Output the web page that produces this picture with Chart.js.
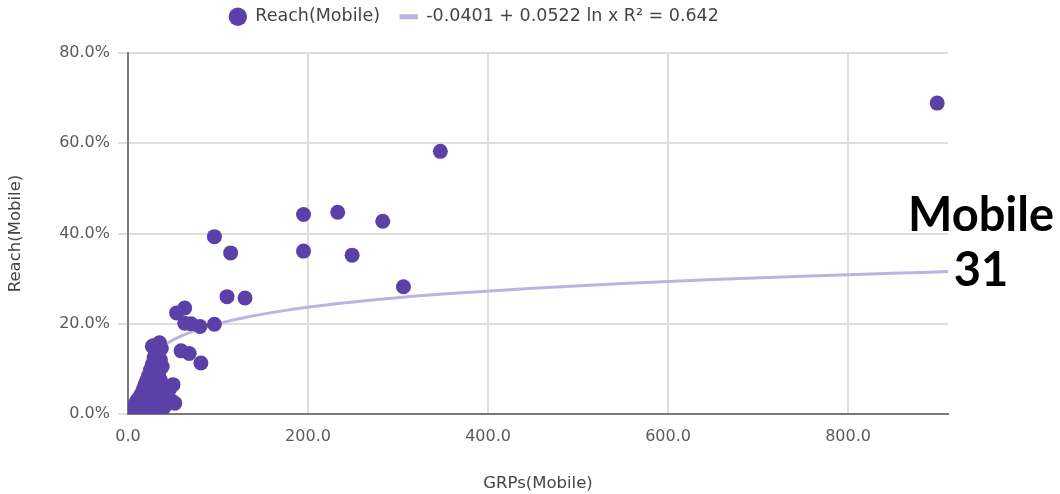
<!DOCTYPE html>
<html>
<head>
<meta charset="utf-8">
<title>Reach vs GRPs (Mobile)</title>
<script src="https://cdn.jsdelivr.net/npm/chart.js@4.4.1/dist/chart.umd.min.js"></script>
<style>
  html, body { margin: 0; padding: 0; background: #fff; }
  #wrap { position: relative; width: 1060px; height: 494px; }
  #tag {
    position: absolute; left: 906px; top: 186px; width: 150px;
    text-align: center; font-family: Lato, "Open Sans", sans-serif;
    font-weight: 700; font-size: 47px; line-height: 55px; color: #000;
  }
</style>
</head>
<body>
<div id="wrap">
  <canvas id="chart-reach" width="1060" height="494"></canvas>
  <div id="tag">Mobile<br>31</div>
</div>
<script>
// GRPs (x) and reach (y, as a fraction)
var grps = [
  0.5, 1, 2, 3, 4, 5, 6, 7, 8, 9, 10, 11, 12, 13, 14, 15, 16, 17, 18, 19,
  20, 21, 22, 23, 24, 25, 26, 27, 28, 29, 30, 31, 32, 33, 34, 35, 36, 37, 36, 38,
  30, 28, 34, 38, 40, 42, 44, 46, 48, 52, 50, 26, 20, 32, 40, 27, 29,
  59, 68, 81, 54, 63, 63, 70, 80, 96,
  96, 114, 110, 130, 195, 195, 233, 283, 249, 306, 347, 899
];
var reach = [
  0.001, 0.003, 0.006, 0.002, 0.010, 0.005, 0.015, 0.008, 0.022, 0.012,
  0.030, 0.006, 0.020, 0.038, 0.010, 0.045, 0.028, 0.055, 0.015, 0.065,
  0.035, 0.075, 0.050, 0.085, 0.020, 0.098, 0.065, 0.110, 0.080, 0.125,
  0.140, 0.100, 0.130, 0.118, 0.090, 0.158, 0.120, 0.145, 0.075, 0.105,
  0.060, 0.030, 0.020, 0.035, 0.060, 0.045, 0.028, 0.055, 0.030, 0.024,
  0.065, 0.012, 0.008, 0.008, 0.015, 0.150, 0.152,
  0.140, 0.134, 0.113, 0.224, 0.235, 0.201, 0.200, 0.194, 0.199,
  0.393, 0.357, 0.260, 0.257, 0.442, 0.361, 0.447, 0.427, 0.352, 0.282, 0.582, 0.689
];

// logarithmic trendline as given in the legend
var trendA = -0.0401;
var trendB = 0.0522;
var trendR2 = 0.642;
var trendX = [22, 30, 45, 60, 80, 100, 130, 170, 220, 280, 350, 450, 550, 650, 750, 850, 911];

var xTicks = [0, 200, 400, 600, 800];
var yTicks = [0, 0.2, 0.4, 0.6, 0.8];

var points = grps.map(function (g, i) { return { x: g, y: reach[i] }; });
var trend = trendX.map(function (g) { return { x: g, y: trendA + trendB * Math.log(g) }; });

var legendHeight = {
  id: 'legendHeight',
  beforeInit: function (chart) {
    var fit = chart.legend.fit;
    chart.legend.fit = function () {
      fit.call(this);
      this.height = 65;
    };
  }
};

Chart.defaults.font.family = '"DejaVu Sans", "Liberation Sans", Arial, sans-serif';

var domChart = document.getElementById('chart-reach');
var chartReach = new Chart(domChart, {
  type: 'scatter',
  data: {
    datasets: [{
      label: 'Reach(Mobile)',
      data: points,
      backgroundColor: '#5b40a8',
      borderColor: '#5b40a8',
      borderWidth: 0,
      pointRadius: 7.5,
      pointStyle: 'circle',
      order: 0
    }, {
      label: trendA.toFixed(4) + ' + ' + trendB.toFixed(4) + ' ln x R\u00B2 = ' + trendR2.toFixed(3),
      data: trend,
      showLine: true,
      borderColor: '#bab4e2',
      backgroundColor: '#bab4e2',
      borderWidth: 3,
      pointRadius: 0,
      pointStyle: 'line',
      cubicInterpolationMode: 'monotone',
      order: 1
    }]
  },
  options: {
    responsive: false,
    animation: false,
    layout: { padding: { top: -12, right: 112, left: 0, bottom: 0 } },
    plugins: {
      tooltip: { enabled: false },
      legend: {
        position: 'top',
        labels: {
          usePointStyle: true,
          boxHeight: 13,
          padding: 20,
          color: '#444',
          font: { size: 17.5 },
          generateLabels: function (chart) {
            var items = Chart.defaults.plugins.legend.labels.generateLabels(chart);
            items.forEach(function (it) {
              if (it.pointStyle === 'line') { it.lineWidth = 5; it.strokeStyle = '#bab4e2'; }
            });
            return items;
          }
        }
      }
    },
    scales: {
      x: {
        type: 'linear',
        min: 0,
        max: 911,
        bounds: 'data',
        afterFit: function (scale) { scale.height = 80; },
        afterBuildTicks: function (scale) {
          scale.ticks = xTicks.map(function (v) { return { value: v }; });
        },
        ticks: {
          includeBounds: false,
          padding: 13,
          color: '#5a5a5a',
          font: { size: 16 },
          callback: function (v) { return Number(v).toFixed(1); }
        },
        grid: { color: '#dedede', lineWidth: 2, drawTicks: false },
        border: { color: '#7a7a7a', width: 2 },
        title: {
          display: true,
          text: 'GRPs(Mobile)',
          color: '#444',
          font: { size: 16.5 },
          padding: { top: 4, bottom: 0 }
        }
      },
      y: {
        min: 0,
        max: 0.8,
        afterFit: function (scale) { scale.width = 128; },
        afterBuildTicks: function (scale) {
          scale.ticks = yTicks.map(function (v) { return { value: v }; });
        },
        ticks: {
          padding: 8,
          color: '#5a5a5a',
          font: { size: 16 },
          callback: function (v) { return (v * 100).toFixed(1) + '%'; }
        },
        grid: { color: '#dedede', lineWidth: 2, tickLength: 10 },
        border: { color: '#7a7a7a', width: 2 },
        title: {
          display: true,
          text: 'Reach(Mobile)',
          color: '#444',
          font: { size: 16.5 },
          padding: { top: 6, bottom: 4 }
        }
      }
    }
  },
  plugins: [legendHeight]
});
</script>
</body>
</html>
